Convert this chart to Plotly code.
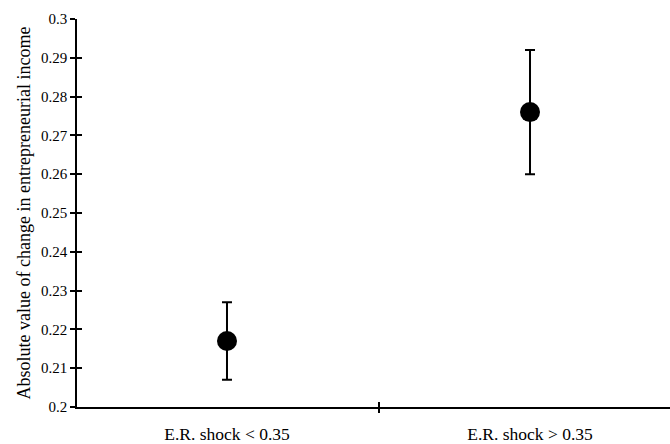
import plotly.graph_objects as go

categories = ["E.R. shock < 0.35", "E.R. shock > 0.35"]
values = [0.217, 0.276]
err_low = [0.207, 0.260]
err_high = [0.227, 0.292]
y_ticks = [0.2, 0.21, 0.22, 0.23, 0.24, 0.25, 0.26, 0.27, 0.28, 0.29, 0.3]
y_tick_text = ["0.2", "0.21", "0.22", "0.23", "0.24", "0.25", "0.26", "0.27", "0.28", "0.29", "0.3"]
x_positions = list(range(len(categories)))

font_family = "Liberation Serif, Times New Roman, serif"

fig = go.Figure()
fig.add_trace(go.Scatter(
    x=x_positions, y=values, mode="markers",
    marker=dict(color="black", size=20),
    error_y=dict(type="data", symmetric=False,
                 array=[h - v for h, v in zip(err_high, values)],
                 arrayminus=[v - l for l, v in zip(err_low, values)],
                 color="black", thickness=2, width=5),
    showlegend=False, hoverinfo="skip",
))
# invisible helper traces for overlay axes (crossing ticks)
fig.add_trace(go.Scatter(x=[0], y=[values[0]], xaxis="x2", yaxis="y2", mode="markers",
                         marker=dict(opacity=0), showlegend=False, hoverinfo="skip"))
fig.add_trace(go.Scatter(x=[0], y=[values[0]], xaxis="x3", yaxis="y", mode="markers",
                         marker=dict(opacity=0), showlegend=False, hoverinfo="skip"))

xr = [-0.495, 1.462]
yr = [0.2, 0.3]

fig.update_layout(
    width=670, height=444,
    margin=dict(l=77, r=0, t=19, b=37, autoexpand=False),
    plot_bgcolor="white", paper_bgcolor="white",
    font=dict(family=font_family, color="black", size=15),
    xaxis=dict(range=xr, tickvals=x_positions, ticktext=categories, ticks="",
               showgrid=False, zeroline=False, showline=True, linecolor="black", linewidth=1.5,
               tickfont=dict(size=17.5), ticklabelstandoff=10),
    yaxis=dict(range=yr, tickvals=y_ticks, ticktext=y_tick_text, ticks="outside", ticklen=5,
               tickwidth=1.5, tickcolor="black", showgrid=False, zeroline=False,
               showline=True, linecolor="black", linewidth=1.5,
               tickfont=dict(size=15), ticklabelstandoff=0,
               title=dict(text="Absolute value of change in entrepreneurial income",
                          font=dict(size=18), standoff=6)),
    xaxis2=dict(range=xr, overlaying="x", anchor="y2", tickvals=[0.5], showticklabels=False,
                ticks="inside", ticklen=5, tickwidth=1.5, tickcolor="black",
                showgrid=False, zeroline=False, showline=False),
    yaxis2=dict(range=yr, overlaying="y", anchor="x2", tickvals=y_ticks, showticklabels=False,
                ticks="inside", ticklen=5, tickwidth=1.5, tickcolor="black",
                showgrid=False, zeroline=False, showline=False),
    xaxis3=dict(range=xr, overlaying="x", anchor="y", tickvals=[0.5], showticklabels=False,
                ticks="outside", ticklen=5, tickwidth=1.5, tickcolor="black",
                showgrid=False, zeroline=False, showline=False),
)

fig.write_html("out.html", config={"displayModeBar": False},
               post_script="document.body.style.margin='0';document.body.style.overflow='hidden';")
